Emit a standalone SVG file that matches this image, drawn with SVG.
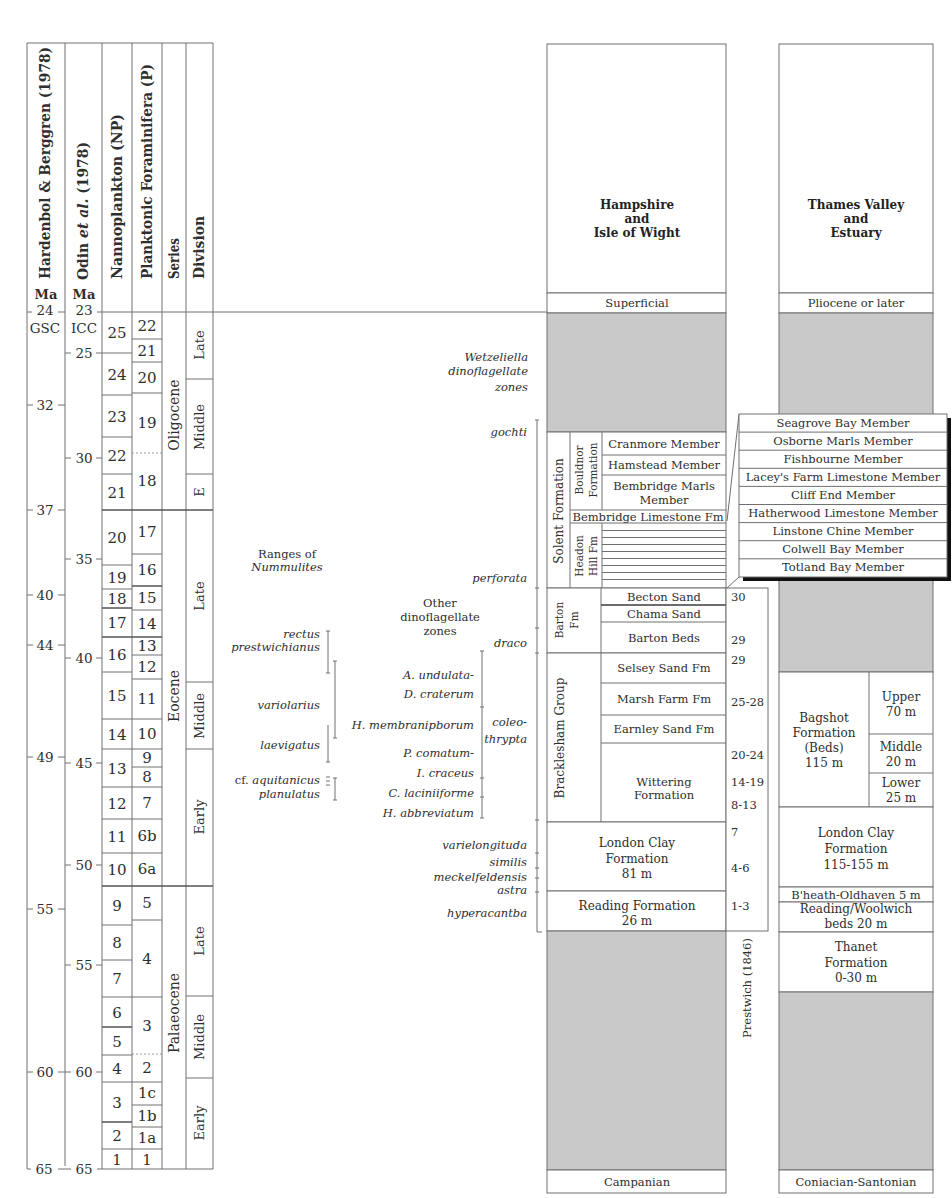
<svg xmlns="http://www.w3.org/2000/svg" width="952" height="1198" viewBox="0 0 952 1198">
<style>
.ln{stroke:#707070;stroke-width:1;fill:none}
.lk{stroke:#555;stroke-width:1.4;fill:none}
.dt{stroke:#999;stroke-width:1;stroke-dasharray:2 2;fill:none}
.gr{fill:#c9c9c9;stroke:#707070;stroke-width:1}
.bx{fill:#fff;stroke:#707070;stroke-width:1}
text{font-family:"DejaVu Serif","Liberation Serif",serif;fill:#2e2e2e}
.hd{font-size:14px;font-weight:bold}
.ma{font-size:13px;font-weight:bold;text-anchor:middle}
.ag{font-size:13.5px;text-anchor:middle}
.nz{font-size:15px;text-anchor:middle}
.sr{font-size:14px;text-anchor:middle}
.dv{font-size:13px;text-anchor:middle}
.it{font-size:11.5px;font-style:italic;text-anchor:end}
.dz{font-size:11.5px;text-anchor:middle}
.mb{font-size:11.5px;text-anchor:middle}
.fm{font-size:12px;text-anchor:middle}
.nm{font-size:11.5px}
.ti{font-size:12px;font-weight:bold;text-anchor:middle;fill:#222}
.sm{font-size:10.5px;text-anchor:middle}
</style>

<g id="timescale">
  <g id="frame">
    <line class="ln" x1="27" y1="43" x2="213" y2="43"/>
    <line class="ln" x1="27" y1="43" x2="27" y2="1166"/>
    <line class="ln" x1="65" y1="43" x2="65" y2="1166"/>
    <line class="ln" x1="102" y1="43" x2="102" y2="1169"/>
    <line class="ln" x1="132" y1="43" x2="132" y2="1169"/>
    <line class="ln" x1="162" y1="43" x2="162" y2="1169"/>
    <line class="ln" x1="186" y1="43" x2="186" y2="1169"/>
    <line class="ln" x1="213" y1="43" x2="213" y2="1169"/>
    <line class="ln" x1="97" y1="312" x2="547" y2="312"/>
    <line class="ln" x1="97" y1="1169" x2="213" y2="1169"/>
  </g>
  <g id="headers">
    <text class="hd" transform="translate(50,279) rotate(-90)" textLength="232" lengthAdjust="spacingAndGlyphs">Hardenbol &amp; Berggren (1978)</text>
    <text class="hd" transform="translate(88,280) rotate(-90)" textLength="138" lengthAdjust="spacingAndGlyphs">Odin <tspan font-style="italic">et al.</tspan> (1978)</text>
    <text class="hd" transform="translate(122,279) rotate(-90)" textLength="165" lengthAdjust="spacingAndGlyphs">Nannoplankton (NP)</text>
    <text class="hd" transform="translate(152,279) rotate(-90)" textLength="215" lengthAdjust="spacingAndGlyphs">Planktonic Foraminifera (P)</text>
    <text class="hd" transform="translate(179,279) rotate(-90)" textLength="41" lengthAdjust="spacingAndGlyphs">Series</text>
    <text class="hd" transform="translate(204,279) rotate(-90)" textLength="63" lengthAdjust="spacingAndGlyphs">Division</text>
    <text class="ma" x="46" y="299">Ma</text>
    <text class="ma" x="84" y="299">Ma</text>
    <text class="ag" x="45" y="333" font-size="11.5">GSC</text>
    <text class="ag" x="84" y="333" font-size="11.5">ICC</text>
  </g>
  <g id="hardenbol-ages">
    <path class="ln" d="M27 312h5M58 312h7M27 405h6M58 405h7M27 510h6M58 510h7M27 595h6M58 595h7M27 645h6M58 645h7M27 757h6M58 757h7M27 909h6M58 909h7M27 1072h6M58 1072h7M27 1166v3h4M58 1169h7"/>
    <text class="ag" x="45" y="315" font-size="12.5">24</text>
    <text class="ag" x="45" y="410">32</text>
    <text class="ag" x="45" y="515">37</text>
    <text class="ag" x="45" y="600">40</text>
    <text class="ag" x="45" y="650">44</text>
    <text class="ag" x="45" y="762">49</text>
    <text class="ag" x="45" y="914">55</text>
    <text class="ag" x="45" y="1077">60</text>
    <text class="ag" x="44" y="1174">65</text>
  </g>
  <g id="odin-ages">
    <path class="ln" d="M65 353h6M96 353h6M65 458h6M96 458h6M65 559h6M96 559h6M65 658h6M96 658h6M65 763h6M96 763h6M65 865h6M96 865h6M65 965h6M96 965h6M65 1072h6M96 1072h6M65 1169h6"/>
    <text class="ag" x="84" y="315" font-size="12.5">23</text>
    <text class="ag" x="84" y="358">25</text>
    <text class="ag" x="84" y="463">30</text>
    <text class="ag" x="84" y="564">35</text>
    <text class="ag" x="84" y="663">40</text>
    <text class="ag" x="84" y="768">45</text>
    <text class="ag" x="84" y="870">50</text>
    <text class="ag" x="84" y="970">55</text>
    <text class="ag" x="84" y="1077">60</text>
    <text class="ag" x="84" y="1174">65</text>
  </g>
  <g id="nannoplankton">
    <path class="ln" d="M102 353h30M102 395h30M102 437h30M102 474h30M102 565h30M102 589h30M102 672h30M102 719h30M102 749h30M102 787h30M102 819h30M102 853h30M102 925h30M102 960h30M102 997h30M102 1055h30M102 1082h30M102 1149h30"/>
    <path class="lk" d="M102 608h30M102 637h30M102 1027h30M102 1122h30"/>
    <text class="nz" x="117" y="338">25</text>
    <text class="nz" x="117" y="380">24</text>
    <text class="nz" x="117" y="422">23</text>
    <text class="nz" x="117" y="461">22</text>
    <text class="nz" x="117" y="498">21</text>
    <text class="nz" x="117" y="543">20</text>
    <text class="nz" x="117" y="583">19</text>
    <text class="nz" x="117" y="604">18</text>
    <text class="nz" x="117" y="628">17</text>
    <text class="nz" x="117" y="660">16</text>
    <text class="nz" x="117" y="701">15</text>
    <text class="nz" x="117" y="740">14</text>
    <text class="nz" x="117" y="774">13</text>
    <text class="nz" x="117" y="809">12</text>
    <text class="nz" x="117" y="842">11</text>
    <text class="nz" x="117" y="875">10</text>
    <text class="nz" x="117" y="911">9</text>
    <text class="nz" x="117" y="948">8</text>
    <text class="nz" x="117" y="984">7</text>
    <text class="nz" x="117" y="1018">6</text>
    <text class="nz" x="117" y="1047">5</text>
    <text class="nz" x="117" y="1074">4</text>
    <text class="nz" x="117" y="1108">3</text>
    <text class="nz" x="117" y="1141">2</text>
    <text class="nz" x="117" y="1165">1</text>
  </g>
  <g id="foraminifera">
    <path class="ln" d="M132 339h30M132 362h30M132 393h30M132 554h30M132 610h30M132 655h30M132 679h30M132 719h30M132 749h30M132 767h30M132 787h30M132 819h30M132 853h30M132 920h30M132 997h30M132 1082h30M132 1105h30M132 1127h30M132 1149h30"/>
    <path class="lk" d="M132 586h30M132 637h30"/>
    <path class="dt" d="M132 453h30M132 1054h30"/>
    <text class="nz" x="147" y="331">22</text>
    <text class="nz" x="147" y="356">21</text>
    <text class="nz" x="147" y="383">20</text>
    <text class="nz" x="147" y="428">19</text>
    <text class="nz" x="147" y="486">18</text>
    <text class="nz" x="147" y="537">17</text>
    <text class="nz" x="147" y="575">16</text>
    <text class="nz" x="147" y="603">15</text>
    <text class="nz" x="147" y="629">14</text>
    <text class="nz" x="147" y="651">13</text>
    <text class="nz" x="147" y="672">12</text>
    <text class="nz" x="147" y="704">11</text>
    <text class="nz" x="147" y="739">10</text>
    <text class="nz" x="147" y="763">9</text>
    <text class="nz" x="147" y="782">8</text>
    <text class="nz" x="147" y="808">7</text>
    <text class="nz" x="147" y="841">6b</text>
    <text class="nz" x="147" y="874">6a</text>
    <text class="nz" x="147" y="908">5</text>
    <text class="nz" x="147" y="964">4</text>
    <text class="nz" x="147" y="1031">3</text>
    <text class="nz" x="147" y="1073">2</text>
    <text class="nz" x="147" y="1098">1c</text>
    <text class="nz" x="147" y="1121">1b</text>
    <text class="nz" x="147" y="1143">1a</text>
    <text class="nz" x="147" y="1165">1</text>
  </g>
  <g id="series">
    <path class="lk" d="M102 510h111M102 886h111"/>
    <text class="sr" transform="translate(179,415) rotate(-90)">Oligocene</text>
    <text class="sr" transform="translate(179,696) rotate(-90)">Eocene</text>
    <text class="sr" transform="translate(179,1013) rotate(-90)">Palaeocene</text>
  </g>
  <g id="divisions">
    <path class="ln" d="M186 379h27M186 474h27M186 682h27M186 749h27M186 996h27M186 1078h27"/>
    <text class="dv" transform="translate(204,345) rotate(-90)">Late</text>
    <text class="dv" transform="translate(204,427) rotate(-90)">Middle</text>
    <text class="dv" transform="translate(204,492) rotate(-90)">E</text>
    <text class="dv" transform="translate(204,596) rotate(-90)">Late</text>
    <text class="dv" transform="translate(204,716) rotate(-90)">Middle</text>
    <text class="dv" transform="translate(204,817) rotate(-90)">Early</text>
    <text class="dv" transform="translate(204,941) rotate(-90)">Late</text>
    <text class="dv" transform="translate(204,1037) rotate(-90)">Middle</text>
    <text class="dv" transform="translate(204,1123) rotate(-90)">Early</text>
  </g>
</g>

<g id="nummulites">
  <text class="dz" x="287" y="558">Ranges of</text>
  <text class="dz" x="287" y="571" font-style="italic">Nummulites</text>
  <text class="it" x="320" y="638">rectus</text>
  <text class="it" x="320" y="651">prestwichianus</text>
  <text class="it" x="320" y="709">variolarius</text>
  <text class="it" x="320" y="749">laevigatus</text>
  <text class="it" x="320" y="784"><tspan font-style="normal">cf.</tspan> aquitanicus</text>
  <text class="it" x="320" y="798">planulatus</text>
  <path class="ln" d="M328 631v42M326 631h4M326 673h4M335 661v77M333 661h4M333 738h4M328 725v37M326 762h4M335 778v22M333 778h4M333 800h4"/>
  <path class="ln" d="M326 777h4M326 781h4M326 785h4"/>
</g>

<g id="dinoflagellate-zones">
  <text class="dz" x="440" y="607">Other</text>
  <text class="dz" x="440" y="621">dinoflagellate</text>
  <text class="dz" x="440" y="635">zones</text>
  <text class="it" x="474" y="679">A. undulata-</text>
  <text class="it" x="474" y="698">D. craterum</text>
  <text class="it" x="474" y="729">H. membranipborum</text>
  <text class="it" x="474" y="757">P. comatum-</text>
  <text class="it" x="474" y="777">I. craceus</text>
  <text class="it" x="474" y="797">C. laciniiforme</text>
  <text class="it" x="474" y="817">H. abbreviatum</text>
  <path class="ln" stroke="#999" d="M482 651v167M480 651h4M480 707h4M480 778h4M480 797h4M480 818h4"/>
</g>

<g id="wetzeliella-zones">
  <text class="it" x="528" y="361">Wetzeliella</text>
  <text class="it" x="528" y="375" font-style="normal">dinoflagellate</text>
  <text class="it" x="528" y="391" font-style="normal">zones</text>
  <text class="it" x="527" y="436">gochti</text>
  <text class="it" x="527" y="582">perforata</text>
  <text class="it" x="527" y="647">draco</text>
  <text class="it" x="527" y="726">coleo-</text>
  <text class="it" x="527" y="743">thrypta</text>
  <text class="it" x="527" y="849">varielongituda</text>
  <text class="it" x="527" y="866">similis</text>
  <text class="it" x="527" y="881">meckelfeldensis</text>
  <text class="it" x="527" y="894">astra</text>
  <text class="it" x="527" y="917">hyperacantba</text>
  <path class="ln" d="M537 420v512M535 420h4M535 588h4M535 628h4M535 653h4M535 820h4M535 853h4M535 868h4M535 878h4M535 892h4M537 932h5"/>
</g>

<g id="hampshire">
  <rect class="bx" x="547" y="44" width="179" height="249"/>
  <text class="ti" x="637" y="209">Hampshire</text>
  <text class="ti" x="637" y="223">and</text>
  <text class="ti" x="637" y="237">Isle of Wight</text>
  <rect class="bx" x="547" y="293" width="179" height="20"/>
  <text class="mb" x="637" y="307">Superficial</text>
  <rect class="gr" x="547" y="313" width="179" height="119"/>
  <g id="solent">
    <rect class="bx" x="547" y="432" width="179" height="156"/>
    <path class="ln" d="M570 432v156M602 432v78M602 523v65M602 455h124M602 475h124M570 510h156M570 523h156"/>
    <path class="ln" stroke="#8a8a8a" d="M602 530.5h124M602 537.5h124M602 544.5h124M602 551.5h124M602 558.5h124M602 565.5h124M602 572.5h124M602 579.5h124"/>
    <text class="fm" transform="translate(563,511) rotate(-90)">Solent Formation</text>
    <text class="sm" transform="translate(583,470) rotate(-90)">Bouldnor</text>
    <text class="sm" transform="translate(597,470) rotate(-90)">Formation</text>
    <text class="sm" transform="translate(583,556) rotate(-90)">Headon</text>
    <text class="sm" transform="translate(597,556) rotate(-90)">Hill Fm</text>
    <text class="mb" x="664" y="448">Cranmore Member</text>
    <text class="mb" x="664" y="469">Hamstead Member</text>
    <text class="mb" x="664" y="490">Bembridge Marls</text>
    <text class="mb" x="664" y="504">Member</text>
    <text class="mb" x="648" y="521">Bembridge Limestone Fm</text>
  </g>
  <g id="barton">
    <rect class="bx" x="547" y="588" width="179" height="65"/>
    <path class="ln" d="M601 588v65M601 605h125M601 622h125"/>
    <path class="lk" d="M601 605h125"/>
    <text class="sm" font-size="11.5" transform="translate(563,620) rotate(-90)">Barton</text>
    <text class="sm" font-size="11.5" transform="translate(578,620) rotate(-90)">Fm</text>
    <text class="mb" x="664" y="601">Becton Sand</text>
    <text class="mb" x="664" y="618">Chama Sand</text>
    <text class="mb" x="664" y="642">Barton Beds</text>
  </g>
  <g id="bracklesham">
    <rect class="bx" x="547" y="653" width="179" height="169"/>
    <path class="ln" d="M601 653v169M601 683h125M601 715h125M601 743h125"/>
    <text class="fm" transform="translate(564,738) rotate(-90)">Bracklesham Group</text>
    <text class="mb" x="664" y="672">Selsey Sand Fm</text>
    <text class="mb" x="664" y="703">Marsh Farm Fm</text>
    <text class="mb" x="664" y="733">Earnley Sand Fm</text>
    <text class="mb" x="664" y="786">Wittering</text>
    <text class="mb" x="664" y="799">Formation</text>
  </g>
  <rect class="bx" x="547" y="822" width="179" height="69"/>
  <text class="fm" x="637" y="847">London Clay</text>
  <text class="fm" x="637" y="863">Formation</text>
  <text class="fm" x="637" y="878">81 m</text>
  <rect class="bx" x="547" y="891" width="179" height="40"/>
  <text class="fm" x="637" y="910">Reading Formation</text>
  <text class="fm" x="637" y="925">26 m</text>
  <rect class="gr" x="547" y="931" width="179" height="239"/>
  <rect class="bx" x="547" y="1170" width="179" height="23"/>
  <text class="mb" x="637" y="1186">Campanian</text>
</g>

<g id="prestwich">
  <rect class="bx" x="726" y="588" width="42" height="343"/>
  <text class="nm" x="731" y="601">30</text>
  <text class="nm" x="731" y="644">29</text>
  <text class="nm" x="731" y="664">29</text>
  <text class="nm" x="731" y="706">25-28</text>
  <text class="nm" x="731" y="759">20-24</text>
  <text class="nm" x="731" y="786">14-19</text>
  <text class="nm" x="731" y="809">8-13</text>
  <text class="nm" x="731" y="836">7</text>
  <text class="nm" x="731" y="872">4-6</text>
  <text class="nm" x="731" y="910">1-3</text>
  <text class="mb" transform="translate(751,988) rotate(-90)">Prestwich (1846)</text>
</g>

<g id="thames">
  <rect class="bx" x="779" y="44" width="154" height="249"/>
  <text class="ti" x="856" y="209">Thames Valley</text>
  <text class="ti" x="856" y="223">and</text>
  <text class="ti" x="856" y="237">Estuary</text>
  <rect class="bx" x="779" y="293" width="154" height="20"/>
  <text class="mb" x="856" y="307">Pliocene or later</text>
  <rect class="gr" x="779" y="313" width="154" height="359"/>
  <g id="bagshot">
    <rect class="bx" x="779" y="672" width="154" height="135"/>
    <path class="ln" d="M869 672v135M869 734h64M869 773h64"/>
    <text class="fm" x="824" y="722">Bagshot</text>
    <text class="fm" x="824" y="737">Formation</text>
    <text class="fm" x="824" y="752">(Beds)</text>
    <text class="fm" x="824" y="767">115 m</text>
    <text class="fm" x="901" y="701">Upper</text>
    <text class="fm" x="901" y="716">70 m</text>
    <text class="fm" x="901" y="751">Middle</text>
    <text class="fm" x="901" y="766">20 m</text>
    <text class="fm" x="901" y="787">Lower</text>
    <text class="fm" x="901" y="802">25 m</text>
  </g>
  <rect class="bx" x="779" y="807" width="154" height="80"/>
  <text class="fm" x="856" y="837">London Clay</text>
  <text class="fm" x="856" y="853">Formation</text>
  <text class="fm" x="856" y="869">115-155 m</text>
  <rect class="bx" x="779" y="887" width="154" height="15"/>
  <text class="mb" x="856" y="899">B'heath-Oldhaven 5 m</text>
  <rect class="bx" x="779" y="902" width="154" height="30"/>
  <text class="fm" x="856" y="913">Reading/Woolwich</text>
  <text class="fm" x="856" y="928">beds 20 m</text>
  <rect class="bx" x="779" y="932" width="154" height="60"/>
  <text class="fm" x="856" y="951">Thanet</text>
  <text class="fm" x="856" y="967">Formation</text>
  <text class="fm" x="856" y="982">0-30 m</text>
  <rect class="gr" x="779" y="992" width="154" height="178"/>
  <rect class="bx" x="779" y="1170" width="154" height="23"/>
  <text class="mb" x="856" y="1186">Coniacian-Santonian</text>
</g>

<g id="connectors">
  <line class="ln" x1="739" y1="414" x2="727" y2="521"/>
  <line class="ln" x1="739" y1="577" x2="727" y2="588"/>
</g>

<g id="headon-members">
  <rect x="743" y="418" width="208" height="163" fill="#111"/>
  <rect class="bx" x="739" y="414" width="208" height="163"/>
  <path class="ln" d="M739 432.1h208M739 450.2h208M739 468.3h208M739 486.4h208M739 504.5h208M739 522.6h208M739 540.7h208M739 558.8h208"/>
  <text class="mb" x="843" y="427">Seagrove Bay Member</text>
  <text class="mb" x="843" y="445">Osborne Marls Member</text>
  <text class="mb" x="843" y="463">Fishbourne Member</text>
  <text class="mb" x="843" y="481">Lacey's Farm Limestone Member</text>
  <text class="mb" x="843" y="499">Cliff End Member</text>
  <text class="mb" x="843" y="517">Hatherwood Limestone Member</text>
  <text class="mb" x="843" y="535">Linstone Chine Member</text>
  <text class="mb" x="843" y="553">Colwell Bay Member</text>
  <text class="mb" x="843" y="571">Totland Bay Member</text>
</g>
</svg>
